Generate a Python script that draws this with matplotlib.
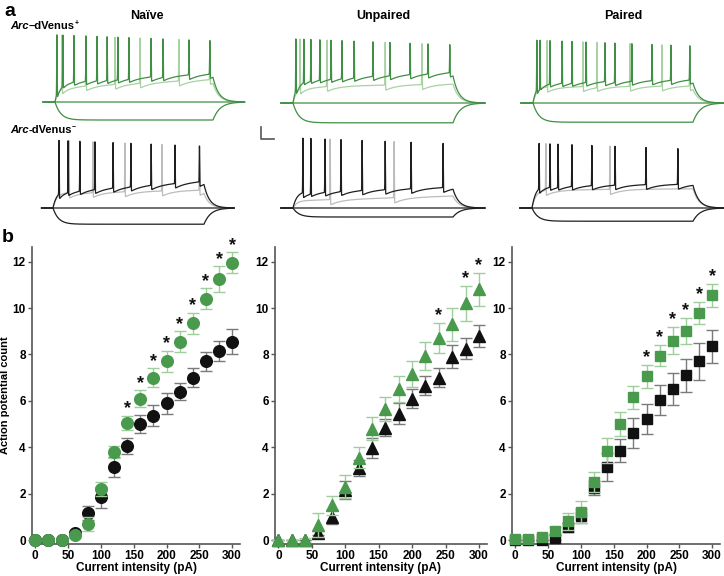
import numpy as np
import matplotlib
matplotlib.use('Agg')
import matplotlib.pyplot as plt

plt.rcParams['font.family'] = ['Liberation Sans', 'DejaVu Sans']
plt.rcParams['font.weight'] = 'bold'
plt.rcParams['axes.labelweight'] = 'bold'

# ---------------- panel b data ----------------
current = [0, 20, 40, 60, 80, 100, 120, 140, 160, 180, 200, 220, 240, 260, 280, 300]

naive_pos = [0, 0, 0, 0.2, 0.7, 2.2, 3.8, 5.05, 6.1, 7.0, 7.7, 8.55, 9.35, 10.4, 11.25, 11.95]
naive_pos_err = [0, 0, 0, 0.1, 0.3, 0.3, 0.25, 0.3, 0.35, 0.4, 0.45, 0.45, 0.45, 0.45, 0.55, 0.45]
naive_neg = [0, 0, 0, 0.3, 1.15, 1.85, 3.15, 4.05, 5.0, 5.35, 5.9, 6.4, 7.0, 7.7, 8.15, 8.55]
naive_neg_err = [0, 0, 0, 0.1, 0.3, 0.45, 0.45, 0.35, 0.4, 0.45, 0.45, 0.38, 0.42, 0.4, 0.45, 0.55]
naive_stars = [140, 160, 180, 200, 220, 240, 260, 280, 300]

unpaired_pos = [0, 0, 0, 0.65, 1.5, 2.3, 3.55, 4.8, 5.65, 6.5, 7.15, 7.95, 8.7, 9.3, 10.2, 10.8]
unpaired_pos_err = [0, 0, 0.1, 0.5, 0.4, 0.5, 0.45, 0.5, 0.5, 0.55, 0.55, 0.6, 0.65, 0.7, 0.75, 0.72]
unpaired_neg = [0, 0, 0, 0.3, 1.0, 2.15, 3.1, 3.95, 4.85, 5.45, 6.1, 6.65, 7.0, 7.9, 8.25, 8.8]
unpaired_neg_err = [0, 0, 0, 0.1, 0.3, 0.4, 0.35, 0.43, 0.36, 0.45, 0.4, 0.4, 0.4, 0.5, 0.45, 0.48]
unpaired_stars = [240, 280, 300]

paired_pos = [0.05, 0.05, 0.15, 0.4, 0.8, 1.2, 2.5, 3.85, 5.0, 6.15, 7.05, 7.95, 8.6, 9.0, 9.8, 10.55]
paired_pos_err = [0, 0, 0.1, 0.15, 0.35, 0.47, 0.45, 0.55, 0.5, 0.5, 0.5, 0.45, 0.6, 0.57, 0.48, 0.5]
paired_neg = [0, 0, 0, 0.1, 0.55, 1.05, 2.25, 3.15, 3.85, 4.6, 5.2, 6.05, 6.5, 7.1, 7.7, 8.35]
paired_neg_err = [0, 0, 0, 0.1, 0.2, 0.3, 0.3, 0.6, 0.5, 0.65, 0.65, 0.65, 0.7, 0.7, 0.8, 0.72]
paired_stars = [200, 220, 240, 260, 280, 300]

# ---------------- panel a data: spike times (ms) and levels (mV from rest) ----------------
naive_pos_dark = [6, 25, 60, 98, 133, 165, 199, 234, 304, 342, 424, 490]
naive_pos_light = [22, 98, 190, 269, 392, 490]
naive_neg_dark = [20, 50, 89, 139, 199, 258, 325, 404, 485]
naive_neg_light = [53, 132, 238, 361, 485]
unpaired_pos_dark = [9, 34, 56, 84, 119, 153, 191, 250, 303, 366, 422, 490]
unpaired_pos_light = [22, 106, 288, 403]
unpaired_neg_dark = [31, 56, 100, 150, 216, 288, 369, 469]
unpaired_neg_light = [116, 316]
paired_pos_dark = [12, 22, 53, 91, 122, 166, 225, 256, 309, 372, 431, 490]
paired_pos_light = [44, 156, 200, 303, 403, 490]
paired_neg_dark = [22, 56, 81, 124, 186, 258, 354, 453]
paired_neg_light = [43, 242]

# spike peak, dark plateau start/end, light plateau start/end, hyperpolarised level
naive_pos_levels = [112, 35, 48, 25, 38, -30]
naive_neg_levels = [113, 28, 45, 25, 30, -27]
unpaired_pos_levels = [107, 40, 52, 27, 32, -33]
unpaired_neg_levels = [117, 27, 35, 12, 20, -15]
paired_pos_levels = [105, 35, 40, 27, 29, -32]
paired_neg_levels = [108, 38, 40, 30, 32, -22]

step_ms = 500
scale_bar_ms = 40
scale_bar_mv = 20

GREEN = '#4a9a4e'
GREEN_ERR = '#9fcd9c'
BLACK = '#111111'
GREY_ERR = '#7a7a7a'
TRACE_GREEN = '#3f8f44'
TRACE_LGREEN = '#a9d2a2'
TRACE_BLACK = '#1e1e1e'
TRACE_GREY = '#bcbcbc'

W, H = 724, 576
fig = plt.figure(figsize=(W / 100, H / 100), dpi=100)


def px_axes(left, top, right, bottom):
    return fig.add_axes([left / W, 1 - bottom / H, (right - left) / W, (bottom - top) / H])


t = np.arange(-38, 600, 0.25)


def depolarised(spikes, peak, v0, v1):
    env = np.where(t >= 0, v0 + (v1 - v0) * np.clip(t, 0, step_ms) / step_ms, 0.0)
    v = env * (1 - np.exp(-np.clip(t, 0, None) / 12.0))
    last = np.full_like(t, -1e9)
    for s in spikes:
        last[t >= s] = s
    dt = t - last
    ahp = np.where(dt < 1e8, -9 * np.exp(-dt / 35.0), 0)
    v = np.where(t <= step_ms, v + ahp, 0)
    vend = v[np.searchsorted(t, step_ms) - 1]
    v = np.where(t > step_ms, vend * np.exp(-(t - step_ms) / 18.0), v)
    for s in spikes:
        pk = peak - 10 * s / step_ms
        g = np.exp(-((t - s) / 0.9) ** 2)
        v = v + (pk - v) * g
    return v


def hyperpolarised(level):
    v = np.where(t >= 0, level * (1 - np.exp(-np.clip(t, 0, None) / 18.0)), 0.0)
    vend = level * (1 - np.exp(-step_ms / 18.0))
    v = np.where(t > step_ms, vend * np.exp(-(t - step_ms) / 22.0), v)
    return v


def trace_cell(onset, offset, base, dark, light, levels, c_dark, c_light):
    s = (offset - onset) / step_ms
    ax = px_axes(onset - 60 * s, base - 130 * 0.6, onset + 640 * s, base + 50 * 0.6)
    ax.set_xlim(-60, 640)
    ax.set_ylim(-50, 130)
    ax.axis('off')
    peak, d0, d1, l0, l1, hyp = levels
    ax.plot(t, depolarised(light, peak, l0, l1), color=c_light, lw=0.9)
    ax.plot(t, np.zeros_like(t), color=c_dark, lw=0.9)
    ax.plot(t, hyperpolarised(hyp), color=c_dark, lw=0.9)
    ax.plot(t, depolarised(dark, peak, d0, d1), color=c_dark, lw=0.9)
    return ax


trace_cell(55, 213, 102, naive_pos_dark, naive_pos_light, naive_pos_levels, TRACE_GREEN, TRACE_LGREEN)
trace_cell(53, 204, 208, naive_neg_dark, naive_neg_light, naive_neg_levels, TRACE_BLACK, TRACE_GREY)
trace_cell(293, 453, 103, unpaired_pos_dark, unpaired_pos_light, unpaired_pos_levels, TRACE_GREEN, TRACE_LGREEN)
ax_sb = trace_cell(293, 453, 208, unpaired_neg_dark, unpaired_neg_light, unpaired_neg_levels, TRACE_BLACK, TRACE_GREY)
trace_cell(533, 693, 103, paired_pos_dark, paired_pos_light, paired_pos_levels, TRACE_GREEN, TRACE_LGREEN)
trace_cell(532, 693, 208, paired_neg_dark, paired_neg_light, paired_neg_levels, TRACE_BLACK, TRACE_GREY)

# scale bar
ax_sb.plot([-100, -100, -100 + scale_bar_ms], [115 + scale_bar_mv, 115, 115], color='#555555', lw=1.2,
           clip_on=False)

# panel a texts
fig.text(10 / W, 1 - 11 / H, 'a', fontsize=14, ha='center', va='center')
fig.text(147 / W, 1 - 16 / H, 'Naïve', fontsize=9, ha='center', va='center')
fig.text(383 / W, 1 - 16 / H, 'Unpaired', fontsize=9, ha='center', va='center')
fig.text(623 / W, 1 - 16 / H, 'Paired', fontsize=9, ha='center', va='center')


def arc_label(y_px, dash, sup):
    t1 = fig.text(10 / W, 1 - y_px / H, 'Arc', fontsize=8, style='italic', ha='left', va='center')
    a2 = fig.add_artist(matplotlib.text.Annotation(dash + 'dVenus', xy=(1, 0.5), xycoords=t1, fontsize=8,
                                                   ha='left', va='center', annotation_clip=False))
    fig.add_artist(matplotlib.text.Annotation(sup, xy=(1, 0.75), xycoords=a2, fontsize=5, ha='left',
                                              va='center', annotation_clip=False))


arc_label(26, '–', '+')
arc_label(130, '-', '−')

# ---------------- panel b ----------------
fig.text(8 / W, 1 - 238 / H, 'b', fontsize=14, ha='center', va='center')

panels = [
    (32, 240, naive_pos, naive_pos_err, naive_neg, naive_neg_err, naive_stars, 'o', 8.4),
    (275, 487, unpaired_pos, unpaired_pos_err, unpaired_neg, unpaired_neg_err, unpaired_stars, '^', 8.5),
    (512, 720, paired_pos, paired_pos_err, paired_neg, paired_neg_err, paired_stars, 's', 7.2),
]

for i, (l, r, gp, ge, bn, be, stars, mk, ms) in enumerate(panels):
    ax = px_axes(l, 247, r, 544)
    ax.set_xlim(-5, 312)
    ax.set_ylim(-0.17, 12.63)
    ax.errorbar(current, bn, yerr=be, fmt=mk, color=BLACK, ecolor=GREY_ERR, elinewidth=1,
                capsize=4, capthick=1, markersize=ms, clip_on=False, zorder=3)
    ax.errorbar(current, gp, yerr=ge, fmt=mk, color=GREEN, ecolor=GREEN_ERR, elinewidth=1,
                capsize=4, capthick=1, markersize=ms, clip_on=False, zorder=4)
    for x in stars:
        k = current.index(x)
        ax.annotate('*', xy=(x, gp[k] + ge[k]), xytext=(0, -1), textcoords='offset points',
                    ha='center', va='bottom', fontsize=13, color=BLACK)
    for sp in ['top', 'right']:
        ax.spines[sp].set_visible(False)
    for sp in ['left', 'bottom']:
        ax.spines[sp].set_color('#555555')
        ax.spines[sp].set_linewidth(1.2)
    ax.set_xticks([0, 50, 100, 150, 200, 250, 300])
    ax.set_yticks([0, 2, 4, 6, 8, 10, 12])
    ax.tick_params(direction='out', length=3, width=1, color='#555555', labelsize=8.5, pad=1.5)
    ax.set_xlabel('Current intensity (pA)', fontsize=8.5, labelpad=0)
    if i == 0:
        ax.set_ylabel('Action potential count', fontsize=8)
        ax.yaxis.set_label_coords((10 - l) / (r - l), 0.5)

fig.savefig('out.png', dpi=100)
